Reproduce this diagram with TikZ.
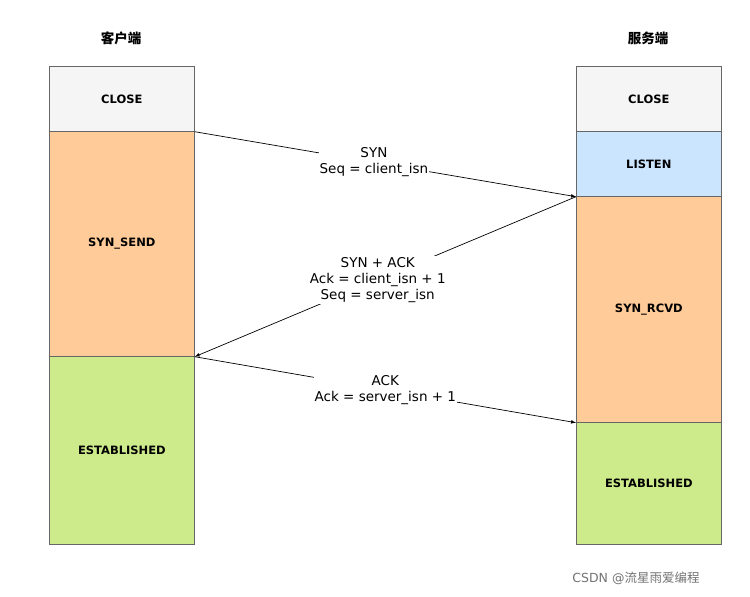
\documentclass[tikz,border=0pt]{standalone}
\usepackage{fontspec}
\setmainfont{DejaVu Sans}
\newfontfamily\cjk{Noto Sans CJK SC}
\definecolor{cgray}{HTML}{F5F5F5}
\definecolor{corange}{HTML}{FFCC99}
\definecolor{cblue}{HTML}{CCE5FF}
\definecolor{cgreen}{HTML}{CDEB8B}
\begin{document}
\begin{tikzpicture}[x=1pt,y=-1pt,
  st/.style={draw=black!60,line width=0.7pt,minimum width=145pt,inner sep=0pt,font=\fontsize{11.5}{14}\selectfont\bfseries},
  lbl/.style={fill=white,align=center,inner sep=1pt,font=\fontsize{13.5}{16}\selectfont},
  msg/.style={-latex,line width=0.7pt},
  ttl/.style={font=\cjk\bfseries\fontsize{13.5}{16}\selectfont}]
\useasboundingbox[fill=white] (0,0) rectangle (750,597);
\node[ttl] (ct) at (121,38) {客户端};
\node[ttl] (st) at (648,38) {服务端};
\node[st,fill=cgray,minimum height=65pt,anchor=north west] (lc) at (49,66) {CLOSE};
\node[st,fill=corange,minimum height=225pt,anchor=north west] (ls) at (49,131) {SYN\_SEND};
\node[st,fill=cgreen,minimum height=188pt,anchor=north west] (le) at (49,356) {ESTABLISHED};
\node[st,fill=cgray,minimum height=65pt,anchor=north west] (rc) at (576,66) {CLOSE};
\node[st,fill=cblue,minimum height=65pt,anchor=north west] (rl) at (576,131) {LISTEN};
\node[st,fill=corange,minimum height=226pt,anchor=north west] (rs) at (576,196) {SYN\_RCVD};
\node[st,fill=cgreen,minimum height=122pt,anchor=north west] (re) at (576,422) {ESTABLISHED};
\draw[msg] (lc.south east) -- node[lbl,pos=0.47] (m1) {SYN\\Seq = client\_isn} (rl.south west);
\draw[msg] (rl.south west) -- node[lbl,pos=0.52] (m2) {SYN + ACK\\Ack = client\_isn + 1\\Seq = server\_isn} (ls.south east);
\draw[msg] (ls.south east) -- node[lbl,pos=0.5] (m3) {ACK\\Ack = server\_isn + 1} (rs.south west);
\node[text=black!55,font=\fontsize{12.5}{15}\selectfont] (wm) at (636,578) {CSDN @{\cjk 流星雨爱编程}};
\end{tikzpicture}
\end{document}
